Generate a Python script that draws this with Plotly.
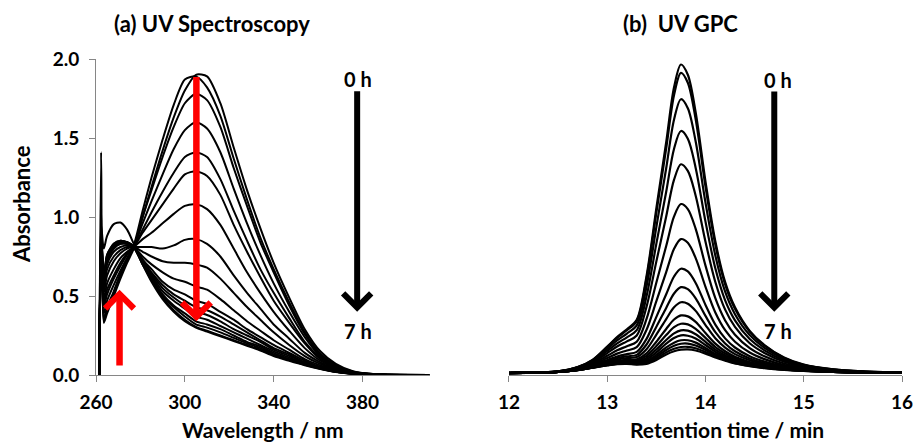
import plotly.graph_objects as go

# ---------------- (a) UV spectroscopy data ----------------
wavelength_nm = [261.5, 262.3, 263.5, 265, 268, 271, 274, 277, 281, 285, 290, 295, 300, 305,
                 310, 316, 322, 328, 334, 340, 347, 354, 361, 368, 376, 386, 410]

uv_01 = [0, 1.41, 0.33, 0.39, 0.50, 0.61, 0.71, 0.80, 1.00, 1.19, 1.42, 1.63, 1.80, 1.90, 1.89, 1.72, 1.44, 1.17, 0.93, 0.71, 0.49, 0.29, 0.15, 0.07, 0.022, 0.005, 0]
uv_02 = [0, 1.05, 0.34, 0.41, 0.52, 0.63, 0.73, 0.82, 1.04, 1.25, 1.49, 1.71, 1.87, 1.89, 1.82, 1.64, 1.37, 1.11, 0.87, 0.67, 0.46, 0.27, 0.135, 0.062, 0.019, 0.004, 0]
uv_03 = [0, 0.95, 0.36, 0.43, 0.53, 0.64, 0.73, 0.81, 1.00, 1.17, 1.38, 1.57, 1.72, 1.78, 1.74, 1.57, 1.31, 1.07, 0.84, 0.65, 0.44, 0.26, 0.13, 0.06, 0.02, 0.004, 0]
uv_04 = [0, 0.92, 0.39, 0.47, 0.57, 0.66, 0.74, 0.81, 0.96, 1.10, 1.27, 1.43, 1.55, 1.60, 1.56, 1.41, 1.18, 0.96, 0.76, 0.58, 0.40, 0.24, 0.12, 0.057, 0.018, 0.004, 0]
uv_05 = [0, 0.90, 0.43, 0.51, 0.61, 0.69, 0.76, 0.81, 0.92, 1.03, 1.16, 1.28, 1.38, 1.41, 1.38, 1.24, 1.04, 0.85, 0.67, 0.52, 0.36, 0.21, 0.11, 0.05, 0.016, 0.003, 0]
uv_06 = [0, 0.88, 0.45, 0.54, 0.63, 0.71, 0.77, 0.81, 0.90, 0.98, 1.08, 1.18, 1.27, 1.29, 1.26, 1.14, 0.95, 0.78, 0.62, 0.47, 0.33, 0.20, 0.10, 0.048, 0.015, 0.003, 0]
uv_07 = [0, 0.87, 0.48, 0.58, 0.67, 0.74, 0.78, 0.81, 0.86, 0.90, 0.96, 1.02, 1.07, 1.08, 1.05, 0.95, 0.80, 0.65, 0.52, 0.40, 0.28, 0.17, 0.09, 0.042, 0.014, 0.003, 0]
uv_08 = [0, 0.86, 0.52, 0.63, 0.72, 0.77, 0.80, 0.81, 0.81, 0.81, 0.80, 0.82, 0.855, 0.86, 0.83, 0.75, 0.63, 0.52, 0.42, 0.32, 0.23, 0.14, 0.08, 0.036, 0.012, 0.003, 0]
uv_09 = [0, 0.85, 0.55, 0.67, 0.75, 0.79, 0.81, 0.81, 0.78, 0.75, 0.72, 0.71, 0.71, 0.70, 0.68, 0.61, 0.52, 0.43, 0.35, 0.27, 0.19, 0.12, 0.07, 0.03, 0.011, 0.002, 0]
uv_10 = [0, 0.85, 0.57, 0.70, 0.78, 0.81, 0.82, 0.81, 0.75, 0.70, 0.65, 0.61, 0.59, 0.56, 0.54, 0.48, 0.41, 0.34, 0.28, 0.22, 0.16, 0.10, 0.06, 0.03, 0.01, 0.002, 0]
uv_11 = [0, 0.86, 0.59, 0.72, 0.80, 0.83, 0.83, 0.81, 0.73, 0.67, 0.59, 0.54, 0.51, 0.47, 0.45, 0.40, 0.35, 0.29, 0.24, 0.19, 0.14, 0.09, 0.05, 0.025, 0.009, 0.002, 0]
uv_12 = [0, 0.87, 0.60, 0.73, 0.80, 0.83, 0.83, 0.81, 0.73, 0.65, 0.57, 0.51, 0.47, 0.43, 0.41, 0.37, 0.32, 0.27, 0.22, 0.17, 0.13, 0.08, 0.05, 0.024, 0.009, 0.002, 0]
uv_13 = [0, 0.88, 0.60, 0.74, 0.81, 0.84, 0.83, 0.81, 0.72, 0.64, 0.55, 0.49, 0.44, 0.40, 0.38, 0.34, 0.29, 0.25, 0.21, 0.16, 0.12, 0.08, 0.05, 0.023, 0.009, 0.002, 0]
uv_14 = [0, 0.89, 0.61, 0.74, 0.82, 0.84, 0.84, 0.81, 0.71, 0.63, 0.53, 0.47, 0.42, 0.37, 0.35, 0.31, 0.27, 0.23, 0.19, 0.15, 0.11, 0.075, 0.044, 0.022, 0.0085, 0.002, 0]
uv_15 = [0, 0.90, 0.61, 0.75, 0.82, 0.84, 0.84, 0.81, 0.71, 0.62, 0.51, 0.44, 0.39, 0.34, 0.32, 0.29, 0.25, 0.21, 0.18, 0.14, 0.10, 0.07, 0.042, 0.021, 0.008, 0.002, 0]
uv_16 = [0, 0.91, 0.62, 0.76, 0.83, 0.85, 0.84, 0.81, 0.70, 0.61, 0.50, 0.43, 0.37, 0.32, 0.30, 0.27, 0.235, 0.20, 0.17, 0.13, 0.10, 0.068, 0.041, 0.02, 0.008, 0.002, 0]
uv_17 = [0, 0.92, 0.62, 0.76, 0.83, 0.85, 0.84, 0.81, 0.70, 0.60, 0.49, 0.41, 0.35, 0.305, 0.28, 0.25, 0.22, 0.19, 0.16, 0.125, 0.095, 0.065, 0.04, 0.02, 0.008, 0.002, 0]
uv_18 = [0, 0.95, 0.80, 0.88, 0.955, 0.965, 0.92, 0.83, 0.70, 0.59, 0.48, 0.40, 0.34, 0.30, 0.275, 0.245, 0.215, 0.185, 0.155, 0.12, 0.09, 0.062, 0.038, 0.019, 0.007, 0.002, 0]

uv_curves = [uv_01, uv_02, uv_03, uv_04, uv_05, uv_06, uv_07, uv_08, uv_09,
             uv_10, uv_11, uv_12, uv_13, uv_14, uv_15, uv_16, uv_17, uv_18]

# ---------------- (b) UV GPC data ----------------
retention_min = [12.0, 12.3, 12.5, 12.7, 12.85, 13.0, 13.1, 13.2, 13.3, 13.4, 13.5, 13.6, 13.68, 13.75,
                 13.82, 13.9, 14.0, 14.1, 14.2, 14.3, 14.45, 14.6, 14.8, 15.0, 15.3, 15.6, 16.0]

gpc_01 = [0.003, 0.006, 0.012, 0.04, 0.085, 0.17, 0.23, 0.28, 0.34, 0.62, 1.05, 1.47, 1.82, 1.965, 1.90, 1.66, 1.22, 0.84, 0.58, 0.42, 0.27, 0.18, 0.10, 0.055, 0.025, 0.012, 0.004]
gpc_02 = [0.003, 0.006, 0.012, 0.039, 0.084, 0.167, 0.225, 0.274, 0.332, 0.604, 1.022, 1.431, 1.771, 1.912, 1.849, 1.616, 1.188, 0.819, 0.566, 0.410, 0.264, 0.176, 0.098, 0.054, 0.025, 0.012, 0.004]
gpc_03 = [0.003, 0.006, 0.012, 0.038, 0.079, 0.155, 0.209, 0.253, 0.305, 0.552, 0.932, 1.305, 1.615, 1.744, 1.687, 1.475, 1.086, 0.750, 0.519, 0.376, 0.243, 0.162, 0.091, 0.050, 0.023, 0.011, 0.004]
gpc_04 = [0.003, 0.006, 0.011, 0.035, 0.073, 0.142, 0.190, 0.229, 0.274, 0.490, 0.825, 1.155, 1.429, 1.542, 1.493, 1.307, 0.965, 0.668, 0.464, 0.337, 0.218, 0.146, 0.082, 0.046, 0.021, 0.010, 0.004]
gpc_05 = [0.002, 0.005, 0.011, 0.033, 0.068, 0.128, 0.170, 0.203, 0.240, 0.424, 0.712, 0.998, 1.232, 1.330, 1.288, 1.130, 0.837, 0.581, 0.405, 0.295, 0.191, 0.129, 0.073, 0.041, 0.019, 0.009, 0.003]
gpc_06 = [0.002, 0.005, 0.010, 0.030, 0.061, 0.111, 0.146, 0.172, 0.201, 0.346, 0.578, 0.810, 0.998, 1.077, 1.045, 0.919, 0.685, 0.478, 0.336, 0.245, 0.160, 0.108, 0.062, 0.035, 0.017, 0.008, 0.003]
gpc_07 = [0.002, 0.005, 0.010, 0.028, 0.054, 0.097, 0.125, 0.145, 0.166, 0.277, 0.459, 0.644, 0.792, 0.854, 0.830, 0.733, 0.550, 0.387, 0.274, 0.201, 0.132, 0.090, 0.052, 0.031, 0.015, 0.007, 0.003]
gpc_08 = [0.002, 0.005, 0.009, 0.026, 0.049, 0.084, 0.107, 0.122, 0.136, 0.219, 0.359, 0.503, 0.616, 0.665, 0.648, 0.575, 0.435, 0.310, 0.222, 0.164, 0.109, 0.075, 0.044, 0.026, 0.013, 0.006, 0.003]
gpc_09 = [0.001, 0.004, 0.009, 0.024, 0.046, 0.076, 0.096, 0.108, 0.117, 0.183, 0.296, 0.416, 0.508, 0.548, 0.535, 0.477, 0.365, 0.262, 0.190, 0.140, 0.094, 0.065, 0.039, 0.024, 0.012, 0.006, 0.002]
gpc_10 = [0.001, 0.004, 0.009, 0.023, 0.043, 0.070, 0.087, 0.097, 0.103, 0.153, 0.246, 0.345, 0.420, 0.452, 0.443, 0.397, 0.307, 0.223, 0.163, 0.122, 0.083, 0.058, 0.035, 0.022, 0.011, 0.005, 0.002]
gpc_11 = [0.001, 0.004, 0.008, 0.022, 0.041, 0.064, 0.079, 0.086, 0.089, 0.127, 0.201, 0.282, 0.342, 0.368, 0.362, 0.327, 0.256, 0.189, 0.140, 0.105, 0.072, 0.051, 0.031, 0.020, 0.010, 0.005, 0.002]
gpc_12 = [0.001, 0.004, 0.008, 0.022, 0.040, 0.061, 0.074, 0.080, 0.081, 0.111, 0.173, 0.243, 0.293, 0.315, 0.311, 0.283, 0.225, 0.167, 0.126, 0.095, 0.066, 0.046, 0.029, 0.019, 0.010, 0.005, 0.002]
gpc_13 = [0.001, 0.004, 0.008, 0.021, 0.038, 0.058, 0.070, 0.075, 0.074, 0.098, 0.151, 0.212, 0.254, 0.273, 0.271, 0.248, 0.200, 0.150, 0.114, 0.086, 0.060, 0.043, 0.027, 0.018, 0.009, 0.005, 0.002]
gpc_14 = [0.001, 0.004, 0.008, 0.021, 0.038, 0.056, 0.067, 0.071, 0.069, 0.088, 0.133, 0.188, 0.224, 0.241, 0.239, 0.221, 0.180, 0.137, 0.105, 0.080, 0.056, 0.040, 0.026, 0.017, 0.009, 0.004, 0.002]
gpc_15 = [0.001, 0.004, 0.008, 0.021, 0.037, 0.054, 0.064, 0.067, 0.064, 0.078, 0.117, 0.165, 0.195, 0.210, 0.210, 0.195, 0.161, 0.124, 0.097, 0.074, 0.052, 0.038, 0.025, 0.016, 0.009, 0.004, 0.002]
gpc_16 = [0.001, 0.004, 0.008, 0.020, 0.036, 0.053, 0.062, 0.065, 0.061, 0.072, 0.105, 0.148, 0.175, 0.188, 0.189, 0.177, 0.148, 0.116, 0.091, 0.070, 0.050, 0.036, 0.024, 0.016, 0.008, 0.004, 0.002]
gpc_17 = [0.001, 0.004, 0.008, 0.020, 0.035, 0.051, 0.060, 0.062, 0.058, 0.065, 0.094, 0.133, 0.156, 0.167, 0.168, 0.159, 0.135, 0.107, 0.085, 0.065, 0.047, 0.034, 0.023, 0.015, 0.008, 0.004, 0.002]
gpc_18 = [0.001, 0.004, 0.008, 0.020, 0.035, 0.050, 0.058, 0.060, 0.055, 0.060, 0.085, 0.120, 0.140, 0.150, 0.152, 0.145, 0.125, 0.100, 0.080, 0.062, 0.045, 0.033, 0.022, 0.015, 0.008, 0.004, 0.002]

gpc_curves = [gpc_01, gpc_02, gpc_03, gpc_04, gpc_05, gpc_06, gpc_07, gpc_08, gpc_09,
              gpc_10, gpc_11, gpc_12, gpc_13, gpc_14, gpc_15, gpc_16, gpc_17, gpc_18]

uv_xticks = [260, 300, 340, 380]
uv_yticks = [0, 0.5, 1.0, 1.5, 2.0]
uv_yticklabels = ["0.0", "0.5", "1.0", "1.5", "2.0"]
gpc_xticks = [12, 13, 14, 15, 16]

# ---------------- figure ----------------
fig = go.Figure()
for ys in uv_curves:
    fig.add_trace(go.Scatter(x=wavelength_nm, y=ys, mode="lines",
                             line=dict(color="black", width=2, shape="spline", smoothing=0.7),
                             xaxis="x", yaxis="y", hoverinfo="skip"))
for ys in gpc_curves:
    fig.add_trace(go.Scatter(x=retention_min, y=ys, mode="lines",
                             line=dict(color="black", width=2.2, shape="spline", smoothing=0.9),
                             xaxis="x2", yaxis="y2", hoverinfo="skip"))

axis_grey = "#868686"
FONT = "Lato"
tick_font = dict(family=FONT, size=19, color="black", weight="bold")

fig.update_layout(
    width=913, height=442, autosize=False,
    margin=dict(l=96, r=11, t=59, b=67),
    paper_bgcolor="white", plot_bgcolor="white",
    showlegend=False,
    font=dict(family=FONT, color="black", weight="bold"),
    xaxis=dict(domain=[0, 0.4144], range=[260, 410.4], tickvals=uv_xticks,
               showline=True, linecolor=axis_grey, linewidth=1, ticks="outside",
               ticklen=6, tickcolor=axis_grey, tickwidth=1, tickfont=tick_font,
               showgrid=False, zeroline=False, ticklabelstandoff=4, anchor="y",
               automargin=False),
    yaxis=dict(domain=[0, 1], range=[0, 2], tickvals=uv_yticks, ticktext=uv_yticklabels,
               showline=True, linecolor=axis_grey, linewidth=1, ticks="outside",
               ticklen=6, tickcolor=axis_grey, tickwidth=1, tickfont=tick_font,
               showgrid=False, zeroline=False, ticklabelstandoff=6, anchor="x",
               automargin=False),
    xaxis2=dict(domain=[0.5124, 1.0], range=[12, 16], tickvals=gpc_xticks,
                showline=True, linecolor=axis_grey, linewidth=1, ticks="outside",
                ticklen=6, tickcolor=axis_grey, tickwidth=1, tickfont=tick_font,
                showgrid=False, zeroline=False, ticklabelstandoff=4, anchor="y2",
                ticklabeloverflow="allow", automargin=False),
    yaxis2=dict(domain=[0, 1], range=[-0.011, 2], visible=False, anchor="x2",
                automargin=False),
)

title_font = dict(family=FONT, size=22, color="black", weight="bold")
axis_title_font = dict(family=FONT, size=21, color="black", weight="bold")
label_font = dict(family=FONT, size=20, color="black", weight="bold")

annos = [
    dict(text="(a) UV Spectroscopy", xref="paper", yref="paper", x=0.1439, y=1.111,
         xanchor="center", yanchor="middle", showarrow=False, font=title_font),
    dict(text="(b)\u00a0 UV GPC", xref="paper", yref="paper", x=0.7258, y=1.111,
         xanchor="center", yanchor="middle", showarrow=False, font=title_font),
    dict(text="Wavelength / nm", xref="paper", yref="paper", x=0.2066, y=-0.171,
         xanchor="center", yanchor="middle", showarrow=False, font=axis_title_font),
    dict(text="Retention time / min", xref="paper", yref="paper", x=0.7825, y=-0.171,
         xanchor="center", yanchor="middle", showarrow=False, font=axis_title_font),
    dict(text="Absorbance", xref="paper", yref="paper", x=-0.093, y=0.541, textangle=-90,
         xanchor="center", yanchor="middle", showarrow=False, font=dict(family=FONT, size=22, color="black", weight="bold")),
    # time labels
    dict(text="0 h", xref="x", yref="y", x=377.8, y=1.876, showarrow=False, font=label_font),
    dict(text="7 h", xref="x", yref="y", x=377.8, y=0.278, showarrow=False, font=label_font),
    dict(text="0 h", xref="x2", yref="y2", x=14.734, y=1.865, showarrow=False, font=label_font),
    dict(text="7 h", xref="x2", yref="y2", x=14.734, y=0.268, showarrow=False, font=label_font),
    # black arrows
    dict(x=377.6, y=0.40, ax=377.6, ay=1.806, xref="x", yref="y", axref="x", ayref="y",
         showarrow=True, arrowhead=4, arrowwidth=6, arrowsize=0.9, arrowcolor="black", text=""),
    dict(x=14.70, y=0.392, ax=14.70, ay=1.803, xref="x2", yref="y2", axref="x2", ayref="y2",
         showarrow=True, arrowhead=4, arrowwidth=6, arrowsize=0.9, arrowcolor="black", text=""),
    # red arrows
    dict(x=305.2, y=0.34, ax=305.2, ay=1.895, xref="x", yref="y", axref="x", ayref="y",
         showarrow=True, arrowhead=4, arrowwidth=6.5, arrowsize=0.85, arrowcolor="#ff0000", text=""),
    dict(x=270.6, y=0.54, ax=270.6, ay=0.05, xref="x", yref="y", axref="x", ayref="y",
         showarrow=True, arrowhead=4, arrowwidth=6.5, arrowsize=0.85, arrowcolor="#ff0000", text=""),
]
fig.update_layout(annotations=annos)

post_js = (
    "document.documentElement.style.overflow='hidden';"
    "document.body.style.margin='0';document.body.style.padding='0';"
    "document.body.style.overflow='hidden';"
)
fig.write_html("out.html", config={"displayModeBar": False, "responsive": False},
               post_script=post_js)
